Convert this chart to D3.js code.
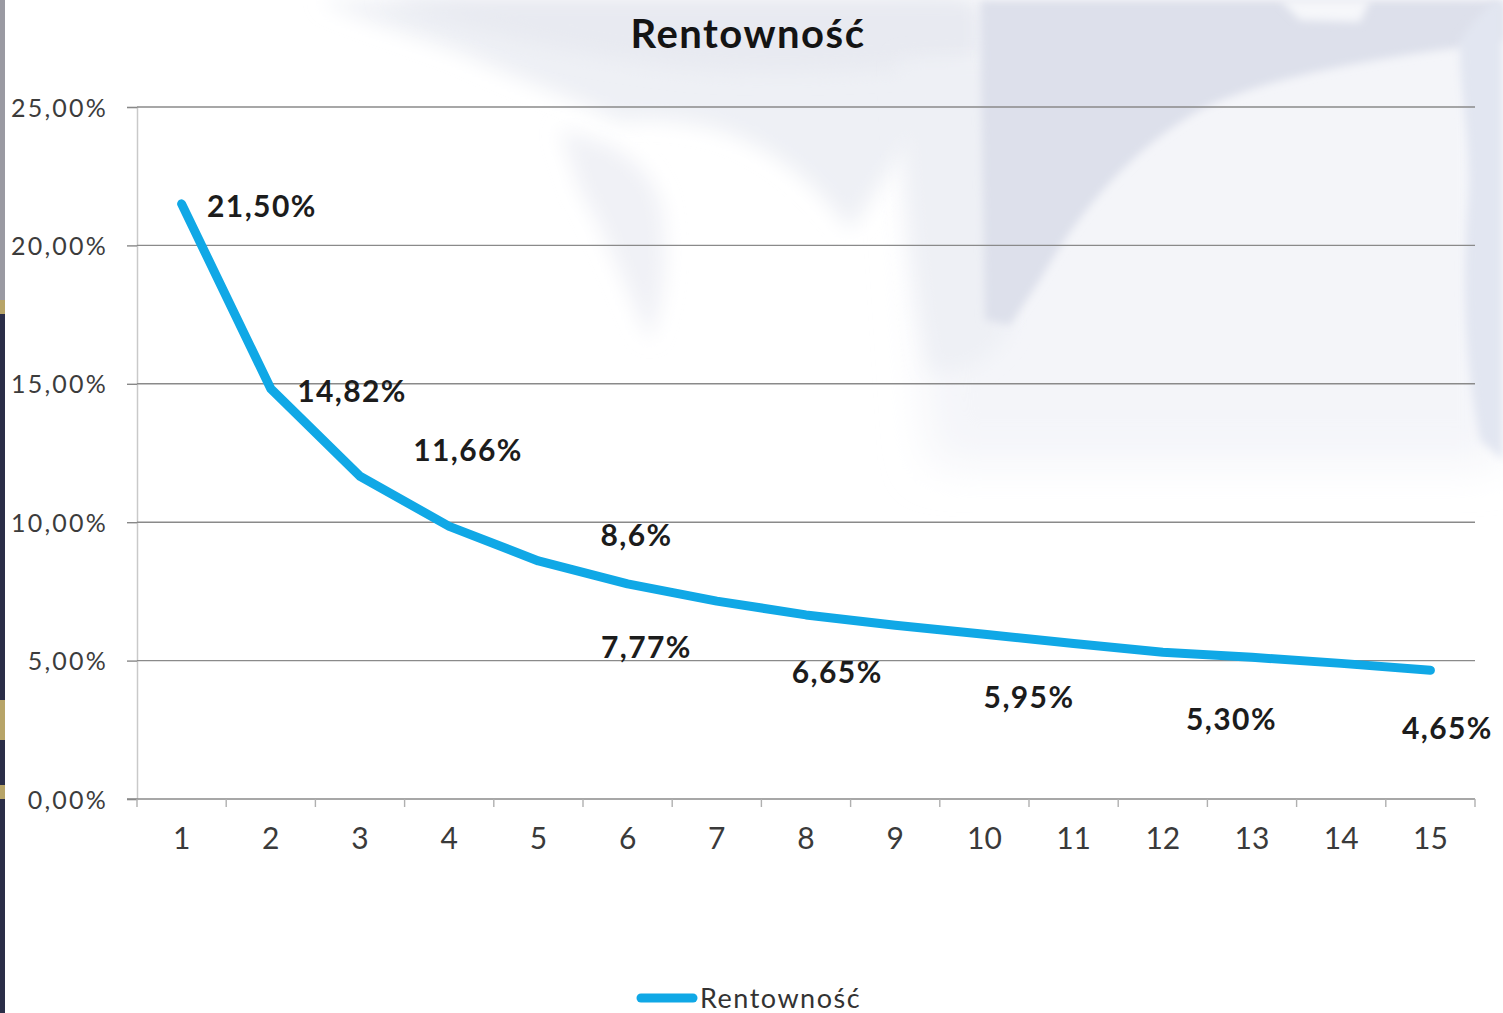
<!DOCTYPE html>
<html>
<head>
<meta charset="utf-8">
<script src="https://cdn.jsdelivr.net/npm/d3@7"></script>
<style>
  html, body { margin: 0; padding: 0; background: #ffffff; overflow: hidden; }
  svg { display: block; }
</style>
</head>
<body>
<svg id="chart" width="1503" height="1013"></svg>
<script>
// ---- data ----
const title = "Rentowność";
const seriesName = "Rentowność";
const categories = ["1","2","3","4","5","6","7","8","9","10","11","12","13","14","15"];
const values = [21.50, 14.82, 11.66, 9.85, 8.60, 7.77, 7.15, 6.65, 6.28, 5.95, 5.62, 5.30, 5.12, 4.90, 4.65];
const yTicks = [0, 5, 10, 15, 20, 25];
// data labels as placed on the chart (text, x in category units, y in % units)
const labelTexts = ["21,50%", "14,82%", "11,66%", "8,6%", "7,77%", "6,65%", "5,95%", "5,30%", "4,65%"];
const labelX = [1.90, 2.91, 4.21, 6.10, 6.21, 8.35, 10.50, 12.77, 15.19];
const labelY = [21.40, 14.74, 12.61, 9.54, 5.49, 4.59, 3.68, 2.89, 2.56];

// ---- layout ----
const W = 1503, H = 1013;
const plot = { left: 137, right: 1475, top: 107, bottom: 799 };
const svg = d3.select("#chart");

// ---- faded background photo approximation ----
const defs = svg.append("defs");
defs.append("filter").attr("id", "blur").attr("filterUnits", "userSpaceOnUse")
  .attr("x", -100).attr("y", -100).attr("width", W + 200).attr("height", H + 200)
  .append("feGaussianBlur").attr("stdDeviation", 10);
defs.append("filter").attr("id", "blur2").attr("filterUnits", "userSpaceOnUse")
  .attr("x", -100).attr("y", -100).attr("width", W + 200).attr("height", H + 200)
  .append("feGaussianBlur").attr("stdDeviation", 22);
defs.append("filter").attr("id", "blur3").attr("filterUnits", "userSpaceOnUse")
  .attr("x", -100).attr("y", -100).attr("width", W + 200).attr("height", H + 200)
  .append("feGaussianBlur").attr("stdDeviation", 4);

const bg = svg.append("g");
bg.append("rect").attr("width", W).attr("height", H).attr("fill", "#ffffff");
// general tint of upper right area
bg.append("path").attr("d", "M900,0 L1503,0 L1503,465 L930,465 Z").attr("fill", "#f4f5f9").attr("filter", "url(#blur2)");
// upper middle faint mass
bg.append("path")
  .attr("d", "M320,0 L960,0 L960,110 C900,140 880,190 850,230 C820,190 780,150 720,130 C680,120 650,118 620,122 C580,100 520,80 460,52 C400,30 350,15 320,0 Z")
  .attr("fill", "#eef0f5").attr("filter", "url(#blur)");
// slightly stronger top band
bg.append("path")
  .attr("d", "M380,0 L980,0 L980,60 C900,70 800,75 700,70 C600,60 500,40 380,0 Z")
  .attr("fill", "#e8eaf1").attr("filter", "url(#blur)");
// diagonal column
bg.append("path")
  .attr("d", "M560,130 C600,140 640,150 660,200 C670,250 665,300 650,340 C630,300 610,240 580,190 Z")
  .attr("fill", "#f0f1f6").attr("filter", "url(#blur)");
// column near 930-1000
bg.append("path")
  .attr("d", "M900,60 L1010,60 L1010,330 C990,360 960,380 930,370 C915,300 905,200 900,60 Z")
  .attr("fill", "#eef0f5").attr("filter", "url(#blur)");
// top right grey block
bg.append("path")
  .attr("d", "M980,0 L1503,0 L1503,40 L1470,46 C1350,62 1260,80 1200,110 C1130,150 1080,210 1040,280 L1010,325 L985,320 Z")
  .attr("fill", "#dde0eb").attr("filter", "url(#blur3)");
// right edge bluish strip
bg.append("path")
  .attr("d", "M1460,40 C1475,20 1490,0 1503,0 L1503,460 L1480,440 C1468,380 1460,300 1468,200 C1472,140 1458,90 1460,40 Z")
  .attr("fill", "#e2e6f1").attr("filter", "url(#blur3)");
// small light patch near top right
bg.append("path")
  .attr("d", "M1280,0 L1370,0 L1360,22 L1300,20 Z").attr("fill", "#f6f7fa").attr("filter", "url(#blur3)");
// left edge frame strip
bg.append("rect").attr("x", 0).attr("y", 0).attr("width", 5).attr("height", 300).attr("fill", "#9a9aa2");
bg.append("rect").attr("x", 0).attr("y", 300).attr("width", 5).attr("height", 713).attr("fill", "#2b2e48");
bg.append("rect").attr("x", 0).attr("y", 300).attr("width", 5).attr("height", 14).attr("fill", "#b7a468");
bg.append("rect").attr("x", 0).attr("y", 700).attr("width", 5).attr("height", 40).attr("fill", "#b7a468");
bg.append("rect").attr("x", 0).attr("y", 785).attr("width", 5).attr("height", 14).attr("fill", "#b7a468");

// ---- scales ----
const x = d3.scaleBand().domain(categories).range([plot.left, plot.right]).padding(0);
const xc = d => x(d) + x.bandwidth() / 2;
const xNum = v => plot.left + (v - 0.5) * x.step();
const y = d3.scaleLinear().domain([0, 25]).range([plot.bottom, plot.top]);

const loc = d3.formatLocale({ decimal: ",", thousands: " ", grouping: [3], currency: ["", " zł"] });
const fmtY = v => loc.format(".2f")(v) + "%";

// ---- gridlines + y axis ----
const yAxis = d3.axisLeft(y).tickValues(yTicks).tickFormat(fmtY).tickSize(10).tickPadding(19);
const gy = svg.append("g").attr("transform", `translate(${plot.left},0)`).call(yAxis);
gy.select(".domain").attr("stroke", "#c9c9c9").attr("stroke-width", 1.5);
gy.selectAll(".tick line").attr("stroke", "#888").attr("stroke-width", 1.4);
gy.selectAll(".tick text")
  .attr("font-family", "Lato, 'Open Sans', sans-serif").attr("font-size", 25)
  .attr("fill", "#3c3c3c").attr("letter-spacing", 2.2).attr("dy", "0.36em");

svg.append("g").selectAll("line").data(yTicks.filter(t => t > 0)).join("line")
  .attr("x1", plot.left).attr("x2", plot.right)
  .attr("y1", d => y(d)).attr("y2", d => y(d))
  .attr("stroke", "#8a8a8a").attr("stroke-width", 1.4);

// ---- x axis ----
const gx = svg.append("g").attr("transform", `translate(0,${plot.bottom})`);
gx.append("line").attr("x1", plot.left - 10).attr("x2", plot.right)
  .attr("stroke", "#8a8a8a").attr("stroke-width", 1.4);
const boundaries = d3.range(categories.length + 1).map(i => plot.left + i * x.step());
gx.selectAll("line.tk").data(boundaries).join("line").attr("class", "tk")
  .attr("x1", d => d).attr("x2", d => d).attr("y1", 0).attr("y2", 8)
  .attr("stroke", "#b0b0b0").attr("stroke-width", 1.4);
gx.selectAll("text").data(categories).join("text")
  .attr("x", d => xc(d)).attr("y", 50)
  .attr("text-anchor", "middle")
  .attr("font-family", "Lato, 'Open Sans', sans-serif").attr("font-size", 30)
  .attr("fill", "#3a3a3a").text(d => d);

// ---- line ----
const line = d3.line().x((d, i) => xc(categories[i])).y(d => y(d)).curve(d3.curveLinear);
svg.append("path").datum(values).attr("d", line)
  .attr("fill", "none").attr("stroke", "#10a8e6").attr("stroke-width", 9)
  .attr("stroke-linecap", "round").attr("stroke-linejoin", "round");

// ---- data labels ----
svg.append("g").selectAll("text").data(labelTexts).join("text")
  .attr("x", (d, i) => xNum(labelX[i])).attr("y", (d, i) => y(labelY[i]))
  .attr("dy", "0.36em").attr("text-anchor", "middle")
  .attr("font-family", "Lato, 'Open Sans', sans-serif").attr("font-weight", "bold")
  .attr("font-size", 30).attr("fill", "#1c1c1c").attr("letter-spacing", 1.4)
  .text(d => d);

// ---- title ----
svg.append("text").attr("x", 748).attr("y", 34).attr("dy", "0.36em")
  .attr("text-anchor", "middle")
  .attr("font-family", "Lato, 'Open Sans', sans-serif").attr("font-weight", "bold")
  .attr("font-size", 40).attr("fill", "#141414").attr("letter-spacing", 1.5).text(title);

// ---- legend ----
const lg = svg.append("g");
lg.append("line").attr("x1", 641).attr("x2", 693).attr("y1", 998).attr("y2", 998)
  .attr("stroke", "#10a8e6").attr("stroke-width", 9).attr("stroke-linecap", "round");
lg.append("text").attr("x", 700).attr("y", 998).attr("dy", "0.36em")
  .attr("font-family", "Lato, 'Open Sans', sans-serif").attr("font-size", 27)
  .attr("fill", "#333").attr("letter-spacing", 1.5).text(seriesName);
</script>
</body>
</html>
